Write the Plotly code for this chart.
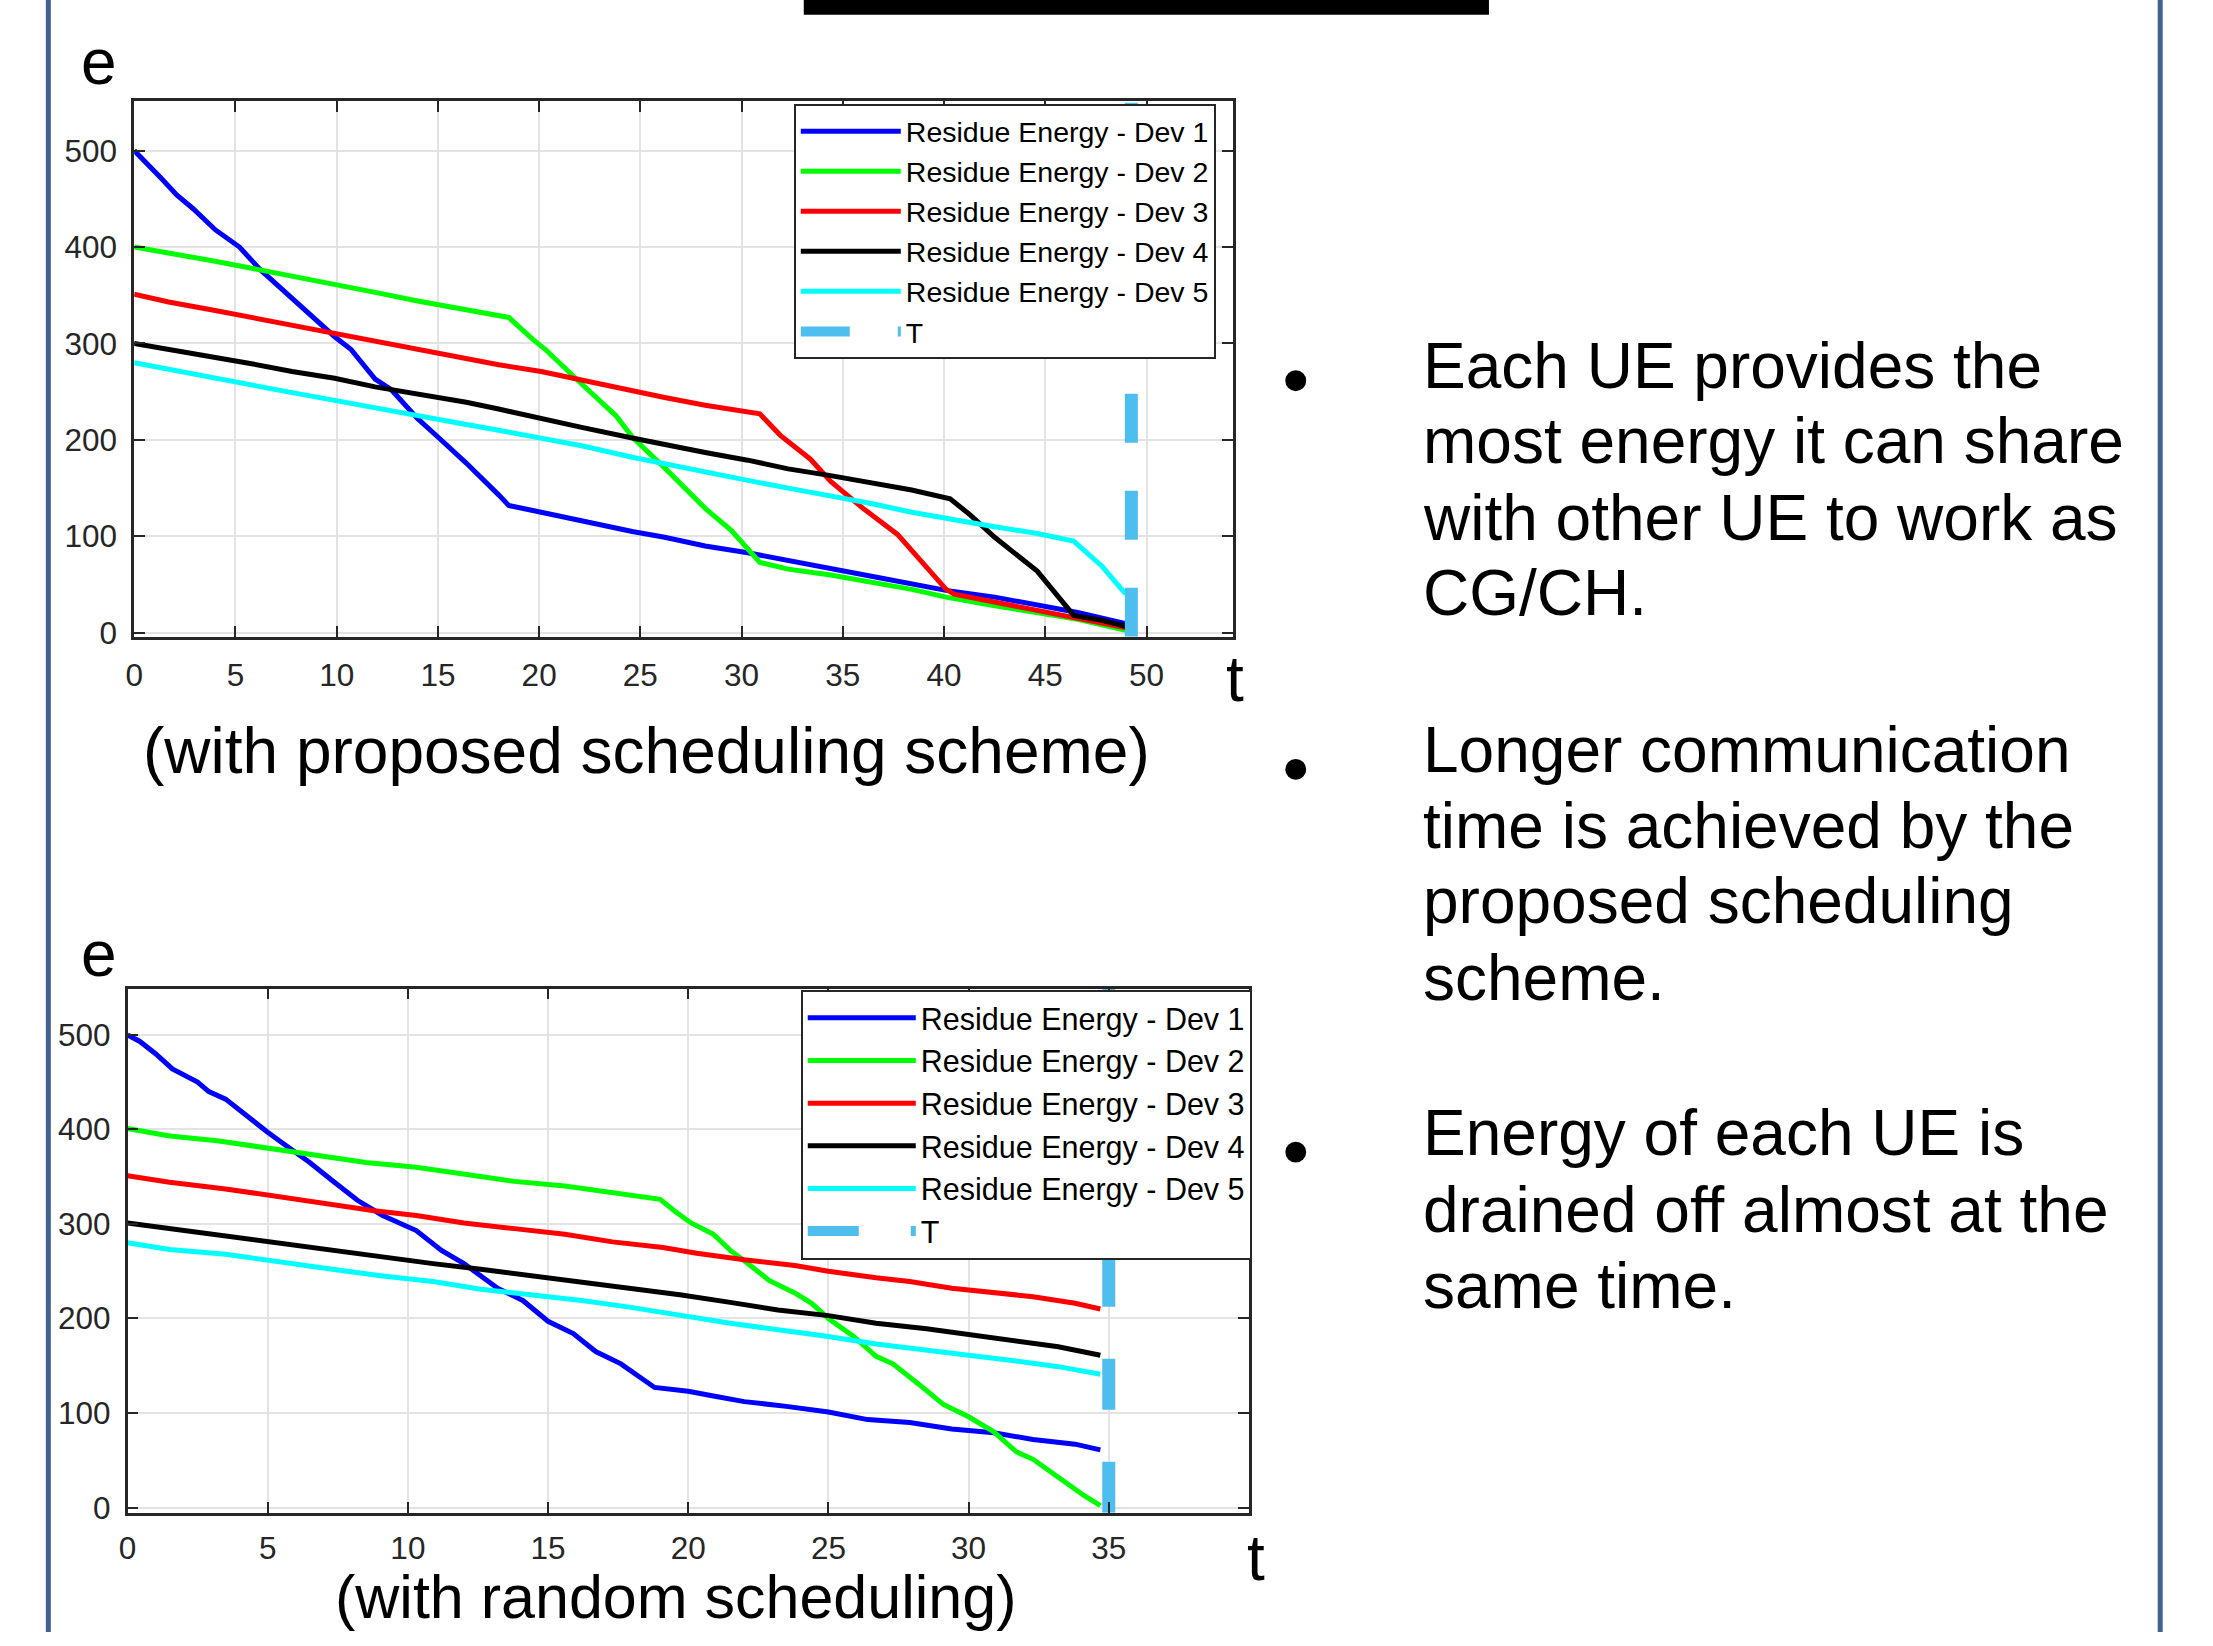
import plotly.graph_objects as go

W, H = 2213, 1646
FONT = "Liberation Sans"

# ---------------- data: top panel (with proposed scheduling scheme) ----------------
p1_dev1_t = [0, 0.7, 1.3, 2.1, 2.9, 4.0, 5.2, 6.2, 7.4, 8.4, 9.9, 10.7, 11.9, 12.7, 14.0, 15.0, 16.4, 18.0, 18.5,
             20.1, 22.1, 24.6, 26.2, 28.2, 30.3, 31.5, 34.4, 36.8, 40.1, 42.5, 46.6, 49.3]
p1_dev1_e = [500, 484, 472, 454, 440, 418, 400, 377, 354, 336, 307, 294, 263, 252, 222, 203, 176, 143, 132,
             125, 116, 105, 99, 90, 83, 78, 67, 57, 44, 37, 21, 8]

p1_dev2_t = [0, 1.7, 3.8, 5.8, 7.8, 9.9, 11.9, 14.0, 16.4, 18.5, 19.7, 20.3, 22.1, 23.8, 24.6, 26.2, 28.2, 29.5,
             30.9, 32.3, 34.4, 36.4, 38.4, 40.1, 42.5, 46.6, 49.3]
p1_dev2_e = [400, 394, 386, 378, 370, 362, 353, 344, 335, 327, 304, 294, 258, 225, 203, 171, 129, 106,
             73, 66, 60, 53, 45, 37, 28, 14, 1]

p1_dev3_t = [0, 1.7, 3.8, 5.8, 7.8, 9.9, 11.9, 14.0, 16.4, 18.0, 20.1, 22.1, 24.6, 26.2, 28.2, 30.9, 31.9, 33.4,
             34.4, 36.0, 37.7, 38.9, 40.1, 40.5, 42.5, 46.6, 49.3]
p1_dev3_e = [351, 343, 335, 327, 319, 311, 303, 294, 285, 278, 271, 262, 251, 244, 236, 227, 205, 180,
             157, 129, 102, 74, 45, 40, 32, 16, 4]

p1_dev4_t = [0, 1.7, 3.8, 5.8, 7.8, 9.9, 11.9, 14.0, 16.4, 18.0, 20.1, 22.1, 24.6, 26.2, 28.2, 30.3, 32.3, 34.4,
             36.4, 38.4, 40.3, 41.3, 42.5, 44.6, 46.4, 47.8, 49.3]
p1_dev4_e = [300, 294, 287, 279, 271, 264, 255, 248, 239, 232, 222, 213, 202, 195, 187, 179, 170, 163,
             156, 148, 139, 122, 99, 64, 18, 13, 5]

p1_dev5_t = [0, 1.7, 3.8, 5.8, 7.8, 9.9, 11.9, 14.0, 16.4, 18.0, 20.1, 22.1, 24.6, 26.2, 28.2, 30.3, 32.3, 34.4,
             36.4, 38.4, 40.5, 42.5, 44.6, 46.4, 47.8, 48.9, 49.3]
p1_dev5_e = [280, 273, 265, 257, 249, 241, 233, 225, 216, 210, 202, 194, 182, 175, 166, 158, 150, 142,
             134, 125, 117, 110, 103, 95, 69, 42, 39]

p1_T = 49.25

# ---------------- data: bottom panel (with random scheduling) ----------------
p2_dev1_t = [0, 0.44, 1.0, 1.6, 2.5, 2.9, 3.5, 4.4, 5.0, 5.6, 6.5, 7.3, 8.2, 9.1, 10.3, 11.2, 12.0, 13.2, 14.1,
             15.0, 15.9, 16.7, 17.6, 18.8, 20.0, 20.9, 22.0, 23.5, 25.0, 26.4, 27.9, 29.4, 30.9, 32.3, 33.8, 34.7]
p2_dev1_e = [500, 493, 480, 464, 450, 440, 432, 410, 397, 384, 365, 346, 325, 309, 293, 272, 258, 232, 219,
             197, 184, 165, 152, 127, 123, 118, 112, 107, 101, 93, 90, 83, 79, 72, 67, 61]

p2_dev2_t = [0, 1.5, 3.2, 5.0, 6.8, 8.5, 10.3, 12.0, 13.8, 15.6, 17.3, 19.0, 19.5, 20.1, 20.9, 21.5, 22.0, 22.9,
             23.8, 24.4, 25.0, 25.9, 26.7, 27.3, 28.2, 29.1, 30.0, 30.9, 31.7, 32.3, 33.2, 34.1, 34.7]
p2_dev2_e = [401, 393, 388, 380, 372, 365, 360, 353, 345, 340, 333, 326, 314, 301, 289, 272, 261, 240,
             227, 216, 200, 181, 160, 152, 131, 109, 96, 80, 59, 51, 32, 13, 2]

p2_dev3_t = [0, 1.5, 3.5, 5.3, 7.3, 8.8, 10.3, 12.0, 13.8, 15.6, 17.3, 19.1, 20.3, 22.0, 23.8, 25.0, 26.7, 27.9,
             29.4, 30.9, 32.3, 33.8, 34.7]
p2_dev3_e = [351, 344, 337, 329, 321, 314, 309, 301, 295, 289, 281, 275, 269, 262, 256, 250, 243, 239,
             232, 228, 223, 216, 210]

p2_dev4_t = [0, 1.5, 3.5, 5.3, 7.3, 9.1, 10.9, 12.6, 14.4, 16.2, 17.9, 19.7, 21.5, 23.2, 25.0, 26.7, 28.5, 30.0,
             31.7, 33.2, 34.7]
p2_dev4_e = [301, 295, 288, 280, 272, 265, 258, 252, 245, 239, 232, 225, 217, 209, 203, 195, 189, 183,
             176, 170, 161]

p2_dev5_t = [0, 1.5, 3.5, 5.3, 7.3, 9.1, 10.9, 12.6, 14.4, 16.2, 17.9, 19.7, 21.5, 23.2, 25.0, 26.7, 28.5, 30.0,
             31.7, 33.2, 34.7]
p2_dev5_e = [280, 273, 268, 260, 252, 245, 239, 231, 225, 219, 212, 203, 195, 188, 181, 173, 167, 161,
             155, 149, 141]

p2_T = 35.0

names = ["Residue Energy - Dev 1", "Residue Energy - Dev 2", "Residue Energy - Dev 3",
         "Residue Energy - Dev 4", "Residue Energy - Dev 5"]
colors = ["#0000FF", "#00FF00", "#FF0000", "#000000", "#00FFFF"]
t_color = "#4DBEEE"

x_ticks_top = [0, 5, 10, 15, 20, 25, 30, 35, 40, 45, 50]
x_ticks_bottom = [0, 5, 10, 15, 20, 25, 30, 35]
y_ticks = [0, 100, 200, 300, 400, 500]

bullets = [
    ["Each UE provides the", "most energy it can share", "with other UE to work as", "CG/CH."],
    ["Longer communication", "time is achieved by the", "proposed scheduling", "scheme."],
    ["Energy of each UE is", "drained off almost at the", "same time."],
]

DX = -6   # small global horizontal correction
DYB = 6   # small vertical correction for the lower panel


def px(x):
    return (x + DX) / W


def py(y):
    return 1 - y / H


fig = go.Figure()

top_series = [(p1_dev1_t, p1_dev1_e), (p1_dev2_t, p1_dev2_e), (p1_dev3_t, p1_dev3_e),
              (p1_dev4_t, p1_dev4_e), (p1_dev5_t, p1_dev5_e)]
bot_series = [(p2_dev1_t, p2_dev1_e), (p2_dev2_t, p2_dev2_e), (p2_dev3_t, p2_dev3_e),
              (p2_dev4_t, p2_dev4_e), (p2_dev5_t, p2_dev5_e)]

y_lo_top, y_hi_top = -4.2, 551
y_lo_bot, y_hi_bot = -5.5, 549

for (t, e), n, c in zip(top_series, names, colors):
    fig.add_trace(go.Scatter(x=t, y=e, mode="lines", name=n, line=dict(color=c, width=5),
                             xaxis="x", yaxis="y", legend="legend"))
fig.add_trace(go.Scatter(x=[p1_T, p1_T], y=[y_lo_top, y_hi_top], mode="lines", name="T",
                         line=dict(color=t_color, width=13, dash="49px,48px"),
                         xaxis="x", yaxis="y", legend="legend"))

for (t, e), n, c in zip(bot_series, names, colors):
    fig.add_trace(go.Scatter(x=t, y=e, mode="lines", name=n, line=dict(color=c, width=5),
                             xaxis="x2", yaxis="y2", legend="legend2"))
fig.add_trace(go.Scatter(x=[p2_T, p2_T], y=[y_lo_bot, y_hi_bot], mode="lines", name="T",
                         line=dict(color=t_color, width=13, dash="51px,52px"),
                         xaxis="x2", yaxis="y2", legend="legend2"))

axis_common = dict(showgrid=True, gridcolor="#E3E3E3", gridwidth=1.5, ticks="inside", ticklen=11,
                   tickwidth=2, tickcolor="#262626", showline=True, linecolor="#262626", linewidth=2.5,
                   mirror="ticks", zeroline=False,
                   tickfont=dict(family=FONT, size=31.5, color="#262626"))

legend_common = dict(bgcolor="white", bordercolor="#262626", borderwidth=2,
                     xanchor="left", yanchor="top", tracegroupgap=0)

fig.update_layout(
    width=W, height=H, margin=dict(l=0, r=0, t=0, b=0),
    paper_bgcolor="white", plot_bgcolor="white",
    xaxis=dict(domain=[px(131.7), px(1235)], range=[0, 54.27], tickvals=x_ticks_top, anchor="y",
               ticklabelstandoff=9, **axis_common),
    yaxis=dict(domain=[py(642.3), py(102.3)], range=[y_lo_top, y_hi_top], tickvals=y_ticks, anchor="x",
               ticklabelstandoff=8, **axis_common),
    xaxis2=dict(domain=[px(125), px(1251)], range=[0, 40], tickvals=x_ticks_bottom, anchor="y2",
                ticklabelstandoff=6, **axis_common),
    yaxis2=dict(domain=[py(1519.7 + DYB), py(991 + DYB)], range=[y_lo_bot, y_hi_bot], tickvals=y_ticks,
                anchor="x2", ticklabelstandoff=8, **axis_common),
    legend=dict(x=px(794), y=py(105), itemwidth=100,
                font=dict(family=FONT, size=28.5, color="black"), **legend_common),
    legend2=dict(x=px(801), y=py(992 + DYB), itemwidth=108,
                 font=dict(family=FONT, size=30.5, color="black"), **legend_common),
)

shapes = []
# page frame lines
shapes.append(dict(type="line", xref="paper", yref="paper", x0=px(45.5), x1=px(45.5), y0=0, y1=1,
                   line=dict(color="#41618F", width=5)))
shapes.append(dict(type="line", xref="paper", yref="paper", x0=2160 / W, x1=2160 / W, y0=0, y1=1,
                   line=dict(color="#41618F", width=5)))
# cropped title bar at the top
shapes.append(dict(type="rect", xref="paper", yref="paper", x0=px(804), x1=px(1492), y0=py(15), y1=1,
                   fillcolor="black", line=dict(width=0)))
# bullets
bullet_y = [384, 776, 1162]
r = 10.5
for by in bullet_y:
    shapes.append(dict(type="circle", xref="paper", yref="paper", x0=px(1298 - r), x1=px(1298 + r),
                       y0=py(by + r), y1=py(by - r), fillcolor="black", line=dict(width=0)))

annotations = []


def add_text(text, x, y, size=64, xanchor="center"):
    annotations.append(dict(text=text, x=px(x), y=py(y), xref="paper", yref="paper", showarrow=False,
                            xanchor=xanchor, yanchor="middle", font=dict(family=FONT, size=size, color="black")))


add_text("e", 96.5, 63)
add_text("t", 1237, 685)
add_text("e", 96.5, 962)
add_text("t", 1258.5, 1571)
add_text("(with proposed scheduling scheme)", 646.5, 757)
add_text("(with random scheduling)", 675, 1611, size=61)

group_baselines = [[391, 467, 544, 620], [778, 855, 931, 1008], [1165, 1242, 1319]]
for lines, bases in zip(bullets, group_baselines):
    for line, b in zip(lines, bases):
        add_text(line, 1424, b - 22, xanchor="left")

fig.update_layout(shapes=shapes, annotations=annotations)

fig.write_html("out.html", config={"displayModeBar": False},
               post_script="document.body.style.margin='0px';")
